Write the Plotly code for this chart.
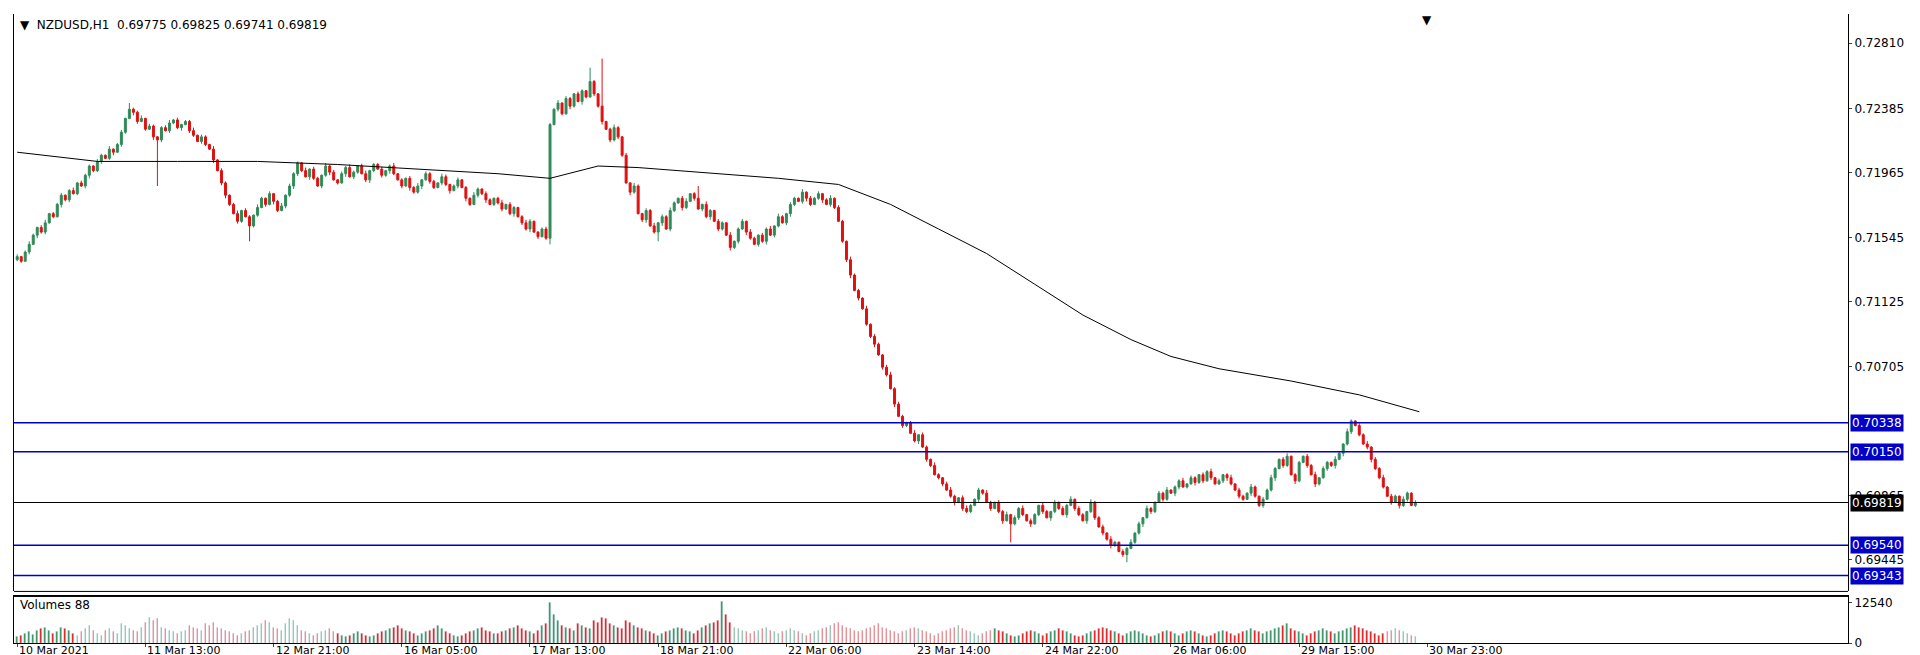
import numpy as np
import plotly.graph_objects as go

# closes in points (1e-5), one per H1 bar
closes = [
    71420, 71390, 71450, 71500, 71560, 71610, 71580, 71640, 71700, 71680,
    71760, 71820, 71790, 71850, 71830, 71900, 71880, 71950, 72010, 71980,
    72040, 72080, 72060, 72120, 72100, 72150, 72230, 72320, 72380, 72360,
    72300, 72320, 72250, 72270, 72200, 72180, 72260, 72240, 72290, 72310,
    72260, 72280, 72300, 72240, 72210, 72170, 72200, 72150, 72120, 72050,
    71980, 71900, 71820, 71760, 71700, 71650, 71720, 71680, 71620, 71690,
    71740, 71800, 71760, 71830, 71780, 71720, 71750, 71820, 71880, 71960,
    72030, 71980, 71940, 71990, 71930, 71880, 71950, 72010, 71970, 71920,
    71900, 71960, 72000, 71940, 71970, 72010, 71960, 71920, 71980, 72020,
    71990, 71950, 71980, 72010, 71960, 71920, 71880, 71930, 71870, 71840,
    71880, 71920, 71960, 71910, 71870, 71900, 71940, 71890, 71850, 71880,
    71920, 71870, 71800, 71760, 71820, 71860, 71830, 71790, 71760, 71800,
    71770, 71730, 71760, 71700, 71740, 71680, 71640, 71600, 71650, 71580,
    71550, 71600, 71540, 72280, 72380, 72420, 72350, 72450, 72400, 72480,
    72430, 72500, 72460, 72560, 72480, 72400, 72300, 72250, 72180, 72260,
    72200, 72080, 71900, 71840, 71880, 71700, 71660, 71720, 71620, 71580,
    71640, 71680, 71600, 71720, 71770, 71800, 71740, 71780, 71830, 71800,
    71730, 71760, 71680, 71720, 71650, 71600, 71640, 71560, 71480, 71520,
    71600, 71650, 71580, 71540, 71500, 71560, 71520, 71600, 71560, 71620,
    71680, 71640, 71700, 71760, 71800, 71780, 71840, 71800, 71760, 71800,
    71830, 71790, 71760, 71800, 71740, 71650, 71520, 71400, 71300, 71200,
    71150, 71080, 70980, 70900, 70850, 70780, 70700, 70650, 70560, 70460,
    70380, 70320, 70340, 70270, 70220, 70260, 70180, 70100, 70060, 70000,
    69980, 69940, 69900, 69860, 69820, 69850, 69780, 69760, 69800, 69840,
    69900, 69880, 69820, 69780, 69820, 69760, 69700, 69740, 69680, 69720,
    69780, 69740, 69700, 69680, 69740, 69800, 69760, 69720, 69760, 69820,
    69780, 69740, 69800, 69840, 69780, 69740, 69700, 69760, 69820, 69720,
    69660, 69620, 69580, 69540, 69560, 69500, 69480, 69520, 69560, 69620,
    69680, 69720, 69780, 69760, 69820, 69880, 69840, 69900, 69880, 69920,
    69960, 69920, 69940, 69980, 69950, 70000, 69960, 70020, 69980, 69940,
    69960, 70000, 69980, 69940, 69900, 69860, 69840, 69880, 69920, 69860,
    69800, 69840, 69900, 69980, 70040, 70100, 70060, 70120, 70000, 69960,
    70080, 70120, 70060, 70000, 69940, 69980, 70040, 70080, 70060, 70100,
    70140, 70200, 70280, 70350, 70320, 70260, 70200, 70180, 70100, 70040,
    69980, 69920, 69860, 69820, 69860, 69800, 69840, 69880, 69800, 69819,
]
first_open = 71400

# wick lengths, one digit per bar, in units of 5 points
upper_wicks = ("3124213412 2312413221 3214123142 2413212341 3122413214 1321241321 4213124132 "
               "2141321423 1324213412 2312412132 4132214312 3121421321 2413212431 1232141321 "
               "3214213124 2131421324 1324213412 3142132141 2314213241 4213214132 3124132142 "
               "2141321342 3212413214 2134213421 3142132413 2413214213 1324132142 2314213241 "
               "3142132412 2413213241 3124132142 1324213412 2132413214 3142132413 2413214213")
lower_wicks = ("2213142312 1423121342 2312413214 3121423131 2413213214 1342132142 2131421324 "
               "3214213241 2141321342 1324213142 2413213241 3142132412 2312413241 3124132142 "
               "1421324132 3214213412 2413214213 1324132142 3142132413 2134213421 2413212341 "
               "3122413214 1321241321 2312413221 4213124132 3214123142 2141321423 1324213412 "
               "2413213214 3121423131 1342132142 2312413214 2131421324 1423121342 2213142312")
high_spikes = {28: 72420, 143: 72650, 146: 72710, 170: 71880}
low_spikes = {35: 71880, 58: 71520, 133: 71500, 160: 71520, 277: 69430, 248: 69560}

volumes = [
    20, 25, 30, 35, 28, 40, 45, 50, 38, 30, 35, 50, 45, 40, 30, 25, 35, 45, 55, 40,
    30, 25, 40, 45, 35, 30, 60, 55, 45, 40, 35, 50, 65, 80, 70, 75, 50, 45, 40, 35,
    30, 35, 40, 55, 50, 45, 40, 60, 55, 65, 50, 45, 40, 35, 30, 25, 30, 35, 40, 50,
    55, 60, 70, 65, 50, 45, 40, 60, 75, 70, 55, 40, 35, 30, 25, 30, 35, 40, 45, 35,
    30, 25, 20, 25, 30, 35, 30, 25, 20, 25, 30, 35, 40, 45, 50, 55, 45, 40, 35, 30,
    25, 30, 35, 40, 45, 55, 45, 35, 30, 25, 20, 25, 30, 35, 40, 45, 50, 40, 35, 30,
    30, 35, 40, 45, 50, 55, 45, 40, 35, 30, 40, 55, 60, 125, 90, 70, 55, 50, 45, 40,
    60, 55, 50, 45, 70, 65, 80, 75, 60, 55, 50, 45, 70, 65, 55, 50, 45, 40, 35, 30,
    25, 30, 35, 40, 45, 50, 45, 40, 35, 30, 40, 50, 55, 60, 65, 70, 128, 90, 65, 50,
    45, 40, 35, 30, 35, 40, 45, 50, 40, 35, 30, 35, 40, 45, 40, 35, 30, 25, 30, 35,
    40, 45, 50, 55, 60, 65, 55, 50, 45, 40, 35, 40, 45, 50, 55, 60, 50, 45, 40, 35,
    30, 35, 40, 45, 50, 45, 40, 35, 30, 25, 30, 35, 40, 45, 50, 55, 45, 40, 35, 30,
    25, 30, 35, 40, 45, 40, 35, 30, 25, 20, 25, 30, 35, 40, 35, 30, 25, 30, 35, 40,
    45, 40, 35, 30, 25, 20, 25, 30, 35, 40, 45, 50, 45, 40, 35, 30, 25, 30, 35, 40,
    35, 30, 25, 20, 25, 30, 35, 40, 35, 30, 25, 30, 35, 40, 35, 30, 25, 20, 25, 30,
    35, 40, 35, 30, 25, 30, 35, 40, 45, 40, 35, 30, 35, 40, 45, 50, 55, 60, 45, 40,
    35, 30, 25, 30, 35, 40, 45, 40, 35, 30, 35, 40, 45, 50, 55, 50, 45, 40, 35, 30,
    25, 30, 35, 40, 45, 40, 35, 30, 25, 20,
]

# moving average, sampled at these bars
ma_bars = [0, 20, 40, 60, 80, 100, 120, 133, 145, 155, 170, 190, 205, 218, 230,
           242, 254, 266, 278, 288, 300, 318, 335, 350]
ma_vals = [72100, 72040, 72040, 72040, 72020, 71990, 71960, 71930, 72010, 72000,
           71970, 71930, 71890, 71760, 71600, 71440, 71240, 71040, 70880, 70770,
           70690, 70610, 70520, 70410]

blue_levels = [0.70338, 0.70150, 0.69540, 0.69343]
last_price = 0.69819

price_ticks = [0.72810, 0.72385, 0.71965, 0.71545, 0.71125, 0.70705, 0.69865, 0.69445]
date_ticks = [0, 32, 64, 96, 128, 160, 192, 224, 256, 288, 320, 352]
date_labels = ["10 Mar 2021", "11 Mar 13:00", "12 Mar 21:00", "16 Mar 05:00", "17 Mar 13:00",
               "18 Mar 21:00", "22 Mar 06:00", "23 Mar 14:00", "24 Mar 22:00", "26 Mar 06:00",
               "29 Mar 15:00", "30 Mar 23:00"]

GREEN = "#2e8b57"
RED = "#e01010"
BLUE = "#0000c8"

c = np.array(closes) / 1e5
o = np.concatenate([[first_open / 1e5], c[:-1]])
uw = np.array([int(d) for d in upper_wicks.replace(" ", "")]) * 5e-5
lw = np.array([int(d) for d in lower_wicks.replace(" ", "")]) * 5e-5
h = np.maximum(o, c) + uw
l = np.minimum(o, c) - lw
for i, v in high_spikes.items():
    h[i] = v / 1e5
for i, v in low_spikes.items():
    l[i] = v / 1e5
x = np.arange(len(c))
vol = np.array(volumes) * 100
vol_colors = [GREEN if cc >= oo else RED for oo, cc in zip(o, c)]

fig = go.Figure()
fig.add_trace(go.Candlestick(x=x, open=o, high=h, low=l, close=c,
                             increasing=dict(line=dict(color=GREEN, width=1), fillcolor=GREEN),
                             decreasing=dict(line=dict(color=RED, width=1), fillcolor=RED),
                             whiskerwidth=0, showlegend=False, hoverinfo="skip"))
fig.add_trace(go.Scatter(x=ma_bars, y=np.array(ma_vals) / 1e5, mode="lines",
                         line=dict(color="black", width=1), showlegend=False))
fig.add_trace(go.Bar(x=x, y=vol, marker_color=vol_colors, width=0.4, yaxis="y2",
                     showlegend=False))

for lv in blue_levels:
    fig.add_hline(y=lv, line=dict(color=BLUE, width=1.5), yref="y")
fig.add_hline(y=last_price, line=dict(color="black", width=1), yref="y")

ann = []
for lv in blue_levels:
    ann.append(dict(x=1.001, xref="paper", y=lv, yref="y", text="%.5f" % lv, showarrow=False,
                    xanchor="left", bgcolor=BLUE, font=dict(color="white", size=12), borderpad=1))
ann.append(dict(x=1.001, xref="paper", y=last_price, yref="y", text="%.5f" % last_price,
                showarrow=False, xanchor="left", bgcolor="black",
                font=dict(color="white", size=12), borderpad=1))
ann.append(dict(x=0.002, xref="paper", y=0.997, yref="paper", xanchor="left", yanchor="top",
                text="▼  NZDUSD,H1  0.69775 0.69825 0.69741 0.69819", showarrow=False,
                font=dict(size=12, color="black")))
ann.append(dict(x=0.002, xref="paper", y=0.074, yref="paper", xanchor="left", yanchor="top",
                text="Volumes 88", showarrow=False, font=dict(size=12, color="black")))
ann.append(dict(x=352, xref="x", y=1.005, yref="paper", yanchor="top", text="▼",
                showarrow=False, font=dict(size=12, color="black")))
for t, lab in zip(date_ticks, date_labels):
    ann.append(dict(x=t, xref="x", y=0, yref="paper", yshift=1, xanchor="left", yanchor="top",
                    text=lab, showarrow=False, font=dict(size=11, color="black")))

fig.update_layout(
    width=1920, height=655, margin=dict(l=6, r=80, t=6, b=20),
    paper_bgcolor="white", plot_bgcolor="white",
    font=dict(family="DejaVu Sans", size=12, color="black"),
    annotations=ann, bargap=0,
    xaxis=dict(range=[-0.8, 457], tickvals=date_ticks, showticklabels=False, showgrid=False,
               zeroline=False, showline=True, linecolor="black", mirror=True, ticks="outside",
               ticklen=3, rangeslider=dict(visible=False), anchor="y2"),
    yaxis=dict(domain=[0.082, 1], range=[0.6924, 0.7300], side="right", tickvals=price_ticks,
               tickformat=".5f", showgrid=False, zeroline=False, showline=True, linecolor="black",
               mirror=True, ticks="outside", ticklen=3),
    yaxis2=dict(domain=[0, 0.074], range=[0, 14500], side="right", tickvals=[0, 12540],
                ticktext=["0", "12540"], showgrid=False, zeroline=False, showline=True,
                linecolor="black", mirror=True, ticks="outside", ticklen=3),
)
fig.add_shape(type="line", xref="paper", yref="paper", x0=0, x1=1, y0=0.082, y1=0.082,
              line=dict(color="black", width=1))
fig.add_shape(type="line", xref="paper", yref="paper", x0=0, x1=1, y0=0.074, y1=0.074,
              line=dict(color="black", width=1))

fig.write_html("out.html")
